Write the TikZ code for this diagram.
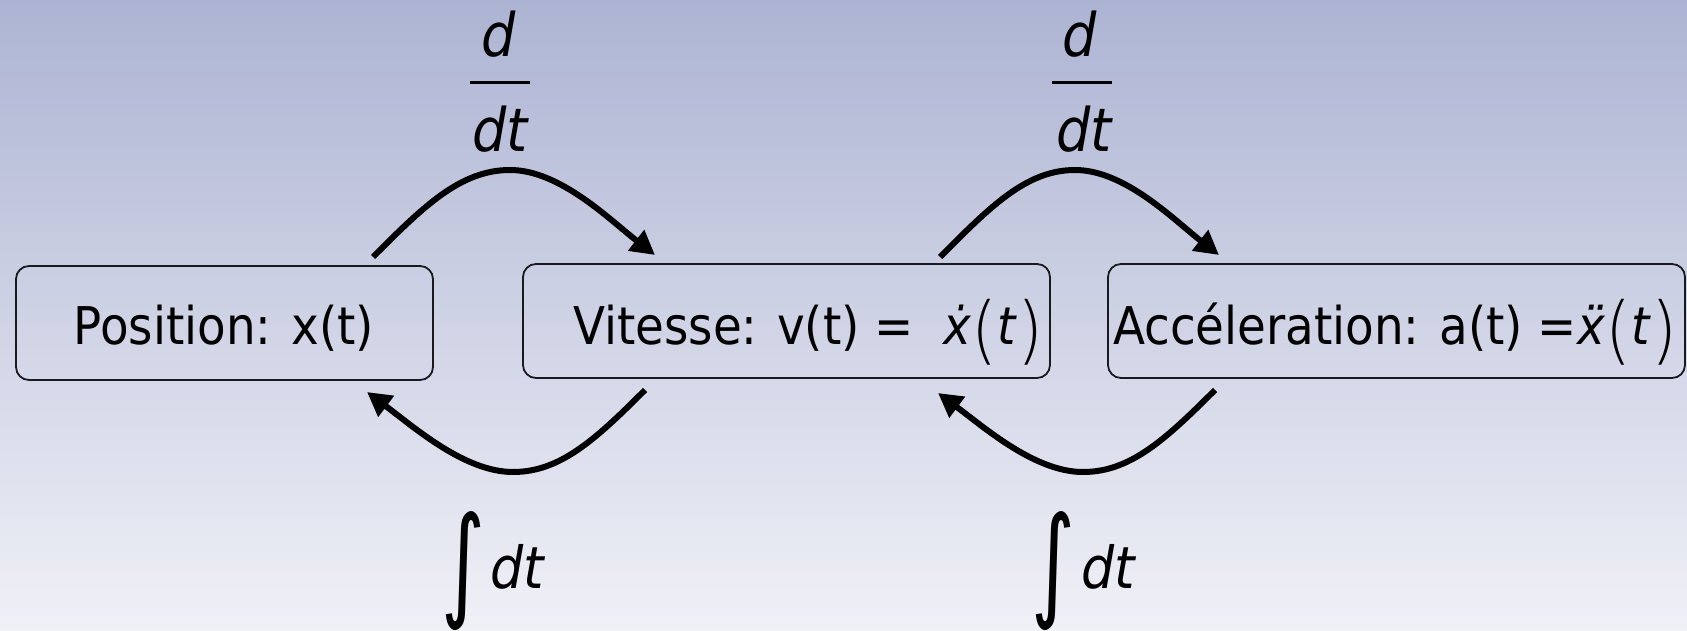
\documentclass[tikz,border=0pt]{standalone}
\usepackage{graphicx}
\usepackage{fontspec}
\IfFontExistsTF{DejaVu Sans Condensed}
  {\setmainfont{DejaVu Sans Condensed}[ItalicFont={DejaVu Sans Condensed Oblique}]}
  {\setmainfont{DejaVu Sans}[FakeStretch=0.9]}
\IfFontExistsTF{DejaVu Sans ExtraLight}
  {\newfontfamily\thinfam{DejaVu Sans ExtraLight}[FakeStretch=0.9]}
  {\newcommand\thinfam{}}
\newfontfamily\intfam{DejaVu Sans}
\usetikzlibrary{arrows.meta}
\definecolor{bgtop}{RGB}{173,180,211}
\definecolor{bgbot}{RGB}{240,241,247}
\definecolor{edge}{RGB}{25,25,30}
\newcommand\bigpar[1]{{\thinfam\fontsize{74}{74}\selectfont\raisebox{-0.15em}{#1}}}
\newcommand\bigint{\resizebox{44pt}{93pt}{\intfam\fontsize{100}{100}\selectfont ∫}}
\begin{document}
\begin{tikzpicture}[x=1pt,y=-1pt,
  box/.style={draw=edge, line width=1.8pt, rounded corners=13pt, inner sep=0pt},
  flow/.style={line width=6pt, -{Triangle[length=24pt,width=25pt]}},
  boxtext/.style={font=\fontsize{52}{60}\selectfont, inner sep=0pt},
  optext/.style={font=\fontsize{60}{64}\selectfont\itshape, inner sep=0pt, anchor=base},
  intsign/.style={inner sep=0pt, anchor=center}]
\useasboundingbox (0,0) rectangle (1687,631);
\shade[top color=bgtop, bottom color=bgbot] (0,0) rectangle (1687,631);

% boxes
\node[box, minimum width=417pt, minimum height=114pt] (pos) at (224.5,323) {};
\node[box, minimum width=527pt, minimum height=114pt] (vit) at (786.5,321) {};
\node[box, minimum width=577pt, minimum height=114pt] (acc) at (1396.5,321) {};

% box texts
\node[boxtext, anchor=base] (tpos) at (224,344) {Position: x(t)};
\node[boxtext, anchor=base west] (tvit) at (573,344) {Vitesse: v(t) = \ {\itshape ẋ}\bigpar{(}{\itshape t}\kern2pt\bigpar{)}};
\node[boxtext, anchor=base west] (tacc) at (1113,344) {Accéleration: a(t) =\kern1pt{\itshape ẍ}\bigpar{(}{\itshape t}\kern2pt\bigpar{)}};

% arrow end points
\coordinate (d1s) at (373,257);  \coordinate (d1e) at (655,255);
\coordinate (d2s) at (940,257);  \coordinate (d2e) at (1219,255);
\coordinate (i1s) at (645,390);  \coordinate (i1e) at (367,392);
\coordinate (i2s) at (1215,390); \coordinate (i2e) at (938,393);

% derivative arrows
\draw[flow] (d1s) .. controls (423,207) and (460,170) .. (510,170)
                  .. controls (560,170) and (610,220) .. (d1e);
\draw[flow] (d2s) .. controls (990,207) and (1026,170) .. (1075,170)
                  .. controls (1125,170) and (1174,220) .. (d2e);
% integral arrows
\draw[flow] (i1s) .. controls (595,440) and (560,472) .. (513,472)
                  .. controls (465,472) and (415,428) .. (i1e);
\draw[flow] (i2s) .. controls (1165,440) and (1130,472) .. (1083,472)
                  .. controls (1035,472) and (985,428) .. (i2e);

% d/dt labels
\node[optext] (n1) at (499,57) {d};
\node[optext] (m1) at (500,152) {dt};
\coordinate (f1a) at (470,83); \coordinate (f1b) at (530,83);
\draw[line width=3pt] (f1a) -- (f1b);
\node[optext] (n2) at (1080,57) {d};
\node[optext] (m2) at (1084,152) {dt};
\coordinate (f2a) at (1052,83); \coordinate (f2b) at (1112,83);
\draw[line width=3pt] (f2a) -- (f2b);

% integral labels
\node[intsign] (s1) at (463,571) {\bigint};
\node[optext, font=\fontsize{58}{60}\selectfont\itshape, anchor=base west] (g1) at (490,588) {dt};
\node[intsign] (s2) at (1053,571) {\bigint};
\node[optext, font=\fontsize{58}{60}\selectfont\itshape, anchor=base west] (g2) at (1081,588) {dt};
\end{tikzpicture}
\end{document}
